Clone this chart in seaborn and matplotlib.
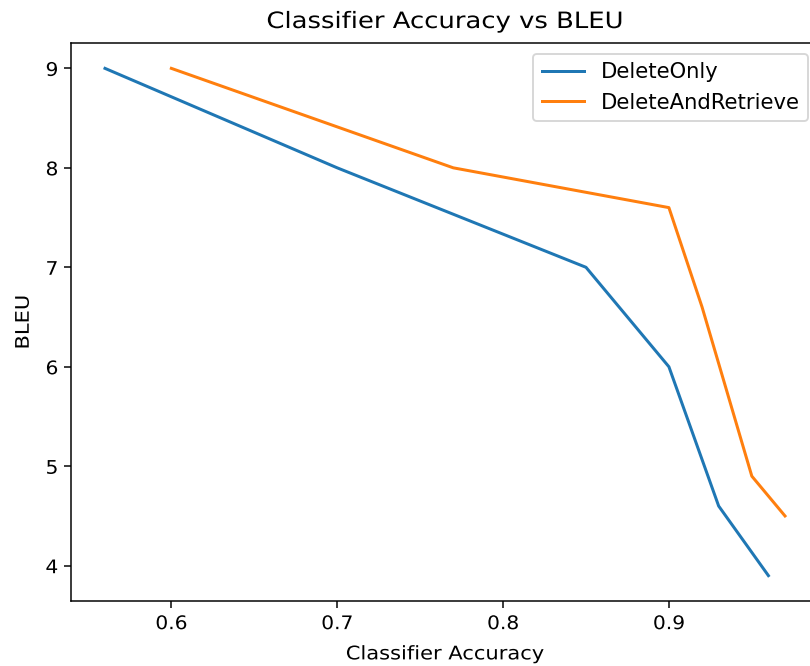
import matplotlib
matplotlib.use("Agg")
import matplotlib.pyplot as plt
import seaborn as sns
import pandas as pd
from matplotlib.patheffects import AbstractPathEffect
from matplotlib.transforms import Affine2D

delete_only_acc = [0.56, 0.70, 0.85, 0.90, 0.93, 0.96]
delete_only_bleu = [9.0, 8.0, 7.0, 6.0, 4.6, 3.9]
dar_acc = [0.60, 0.77, 0.90, 0.92, 0.95, 0.97]
dar_bleu = [9.0, 8.0, 7.6, 6.6, 4.9, 4.5]
series_names = ["DeleteOnly", "DeleteAndRetrieve"]

df = pd.concat([
    pd.DataFrame({"acc": delete_only_acc, "bleu": delete_only_bleu, "model": series_names[0]}),
    pd.DataFrame({"acc": dar_acc, "bleu": dar_bleu, "model": series_names[1]}),
])


class Stretch(AbstractPathEffect):
    """Stretch text horizontally (along its baseline) about its centre."""
    def __init__(self, sx):
        super().__init__()
        self.sx = sx

    def draw_path(self, renderer, gc, tpath, affine, rgbFace=None):
        ext = tpath.get_extents()
        cx = (ext.x0 + ext.x1) / 2
        t = Affine2D().translate(-cx, 0).scale(self.sx, 1).translate(cx, 0) + affine
        renderer.draw_path(gc, tpath, t, rgbFace)


fig = plt.figure(figsize=(810 / 135, 666 / 135), dpi=135)
ax = fig.add_axes([71 / 810, 65 / 666, 748 / 810, 558 / 666])
sns.lineplot(data=df, x="acc", y="bleu", hue="model", estimator=None, sort=False,
             palette=["#1f77b4", "#ff7f0e"], linewidth=1.6, ax=ax)
title = ax.set_title("Classifier Accuracy vs BLEU", pad=8)
ax.set_xlabel("Classifier Accuracy", labelpad=6)
ax.set_ylabel("BLEU", labelpad=7)
ax.set_xticks([0.6, 0.7, 0.8, 0.9])
ax.set_yticks([4, 5, 6, 7, 8, 9])
handles, labels = ax.get_legend_handles_labels()
leg = ax.legend(handles, labels, loc="upper right", fontsize=11.3)

fig.canvas.draw()
title.set_path_effects([Stretch(1.15)])
ax.xaxis.label.set_path_effects([Stretch(1.12)])
ax.yaxis.label.set_path_effects([Stretch(1.12)])
for t in ax.get_xticklabels() + ax.get_yticklabels():
    t.set_path_effects([Stretch(1.08)])

fig.savefig("out.png", dpi=135)
